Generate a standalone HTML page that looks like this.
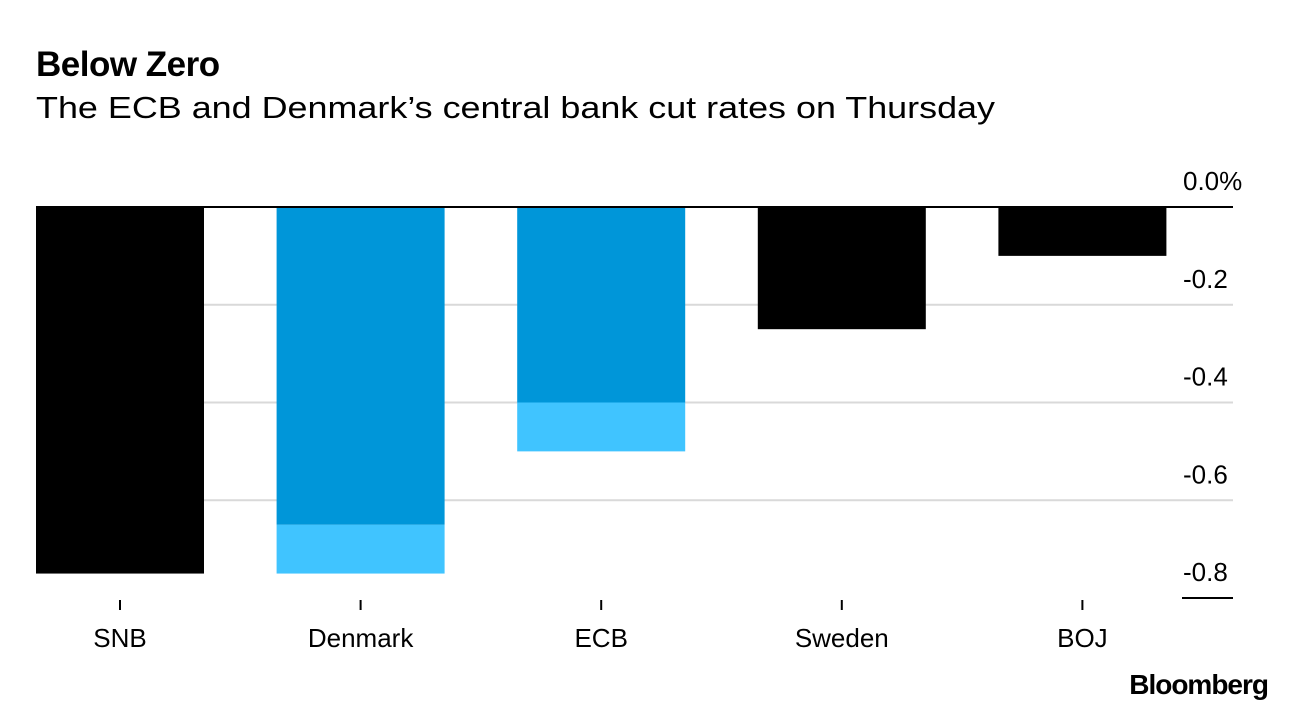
<!DOCTYPE html>
<html><head><meta charset="utf-8"><style>
html,body{margin:0;padding:0;background:#fff;width:1296px;height:710px;overflow:hidden;font-family:"Liberation Sans",sans-serif}
</style></head><body>
<svg width="1296" height="710" xmlns="http://www.w3.org/2000/svg" font-family="Liberation Sans, sans-serif">
<text x="36" y="76" font-size="35" font-weight="bold" fill="#000" letter-spacing="-0.5">Below Zero</text>
<text x="36" y="118" font-size="31" fill="#000" textLength="959" lengthAdjust="spacingAndGlyphs">The ECB and Denmark’s central bank cut rates on Thursday</text>
<g id="grid"></g><g id="bars"></g><g id="axes"></g>
<text x="1268" y="694" font-size="28" font-weight="bold" text-anchor="end" fill="#000" letter-spacing="-1">Bloomberg</text>
</svg>
<script>
const categories=["SNB","Denmark","ECB","Sweden","BOJ"];
const currentRates=[-0.75,-0.65,-0.4,-0.25,-0.1];
const newRates=[-0.75,-0.75,-0.5,-0.25,-0.1];
const yTicks=[0,-0.2,-0.4,-0.6,-0.8];
const yTickLabels=["0.0%","-0.2","-0.4","-0.6","-0.8"];
const NS="http://www.w3.org/2000/svg";
const y=v=>207+(-v)*488.75;
const x0=36,band=240.6,bw=168;
const bx=i=>x0+i*band;
function mk(t,a,p){const e=document.createElementNS(NS,t);for(const k in a)e.setAttribute(k,a[k]);p.appendChild(e);return e;}
const grid=document.getElementById('grid'),bars=document.getElementById('bars'),axes=document.getElementById('axes');
yTicks.forEach((v,i)=>{
  if(i>0&&i<yTicks.length-1){const l=mk('line',{x1:36,x2:1233,y1:y(v),y2:y(v),stroke:'#d9d9d9','stroke-width':2},grid);
  
  }
  const t=mk('text',{x:1183,y:y(v)-17,'font-size':26,fill:'#000'},axes);
  t.textContent=yTickLabels[i];
  
  
});
categories.forEach((c,i)=>{
  const n=newRates[i],cur=currentRates[i];
  const dark=(c==="Denmark"||c==="ECB");
  if(n<cur){const r=mk('rect',{x:bx(i),y:y(cur),width:bw,height:y(n)-y(cur),fill:'#40c4ff'},bars);
    
    }
  const r=mk('rect',{x:bx(i),y:y(0),width:bw,height:y(cur)-y(0),fill:dark?'#0096d9':'#000'},bars);
  
  
  const cx=bx(i)+bw/2;
  const tk=mk('line',{x1:cx,x2:cx,y1:600,y2:610,stroke:'#000','stroke-width':2},axes);
  
  
  const t=mk('text',{x:cx,y:647,'font-size':26,'text-anchor':'middle',fill:'#000'},axes);
  t.textContent=c;
  
  
});
const z=mk('line',{x1:36,x2:1233,y1:y(0),y2:y(0),stroke:'#000','stroke-width':2},axes);


const b=mk('line',{x1:1182,x2:1233,y1:y(-0.8),y2:y(-0.8),stroke:'#000','stroke-width':2},axes);


</script>
</body></html>
